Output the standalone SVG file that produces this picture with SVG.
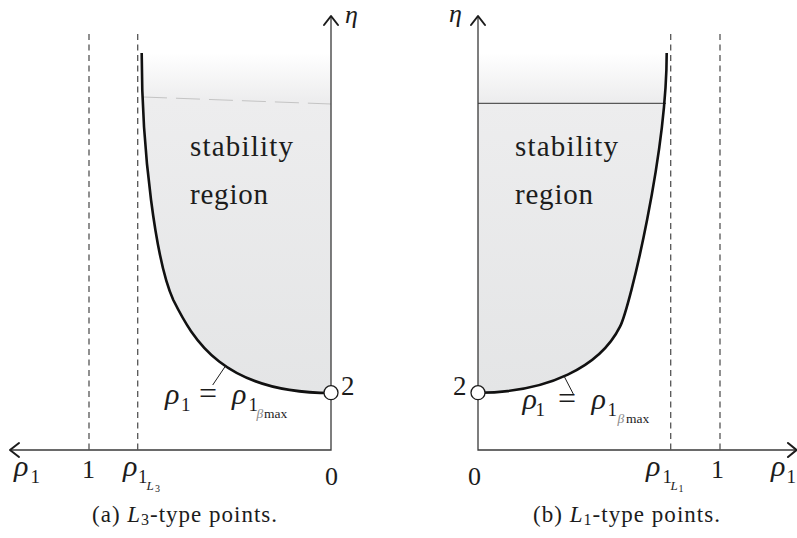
<svg xmlns="http://www.w3.org/2000/svg" width="797" height="538" viewBox="0 0 797 538">
<defs>
  <linearGradient id="shade" gradientUnits="userSpaceOnUse" x1="0" y1="53" x2="0" y2="393">
    <stop offset="0" stop-color="#ffffff"/>
    <stop offset="0.14" stop-color="#ededee"/>
    <stop offset="1" stop-color="#e4e5e6"/>
  </linearGradient>
</defs>

<g id="panel-a">
  <path id="region-a" d="M141.7,53 C141.7,153 156,262 173.3,300 C193.3,340 223,393 331,393 L331,53 Z" fill="url(#shade)"/>
  <line x1="143" y1="97" x2="331" y2="104" stroke="#c4c4c4" stroke-width="1" stroke-dasharray="24 9"/>
  <g id="dashes-a" stroke="#555" stroke-width="1.3" stroke-dasharray="6 4.5" fill="none">
    <line x1="89" y1="34" x2="89" y2="450"/>
    <line x1="137.7" y1="34" x2="137.7" y2="450"/>
  </g>
  <g id="axes-a" fill="none">
    <polyline stroke="#3a3a3a" stroke-width="1.3" points="331,17 331,450 11,450"/>
    <g stroke="#1c1c1c" stroke-width="2" stroke-linecap="round" stroke-linejoin="round">
      <polyline points="324,25 331,16 338,25"/>
      <polyline points="19,443 10,450 19,457"/>
    </g>
  </g>
  <path id="curve-a" d="M141.7,53 C141.7,153 156,262 173.3,300 C193.3,340 223,393 331,393" stroke="#111" stroke-width="2.6" fill="none"/>
  <line x1="212.7" y1="385" x2="225" y2="366.7" stroke="#1c1c1c" stroke-width="1"/>
  <circle cx="331" cy="392.7" r="7" fill="#fff" stroke="#1c1c1c" stroke-width="1.3"/>
  <g id="texts-a" fill="#1c1c1c">
    <text font-family="Liberation Serif" font-size="29" x="190" y="156" textLength="103" lengthAdjust="spacing">stability</text>
    <text font-family="Liberation Serif" font-size="29" x="190" y="204" textLength="78" lengthAdjust="spacing">region</text>
    <text font-family="Liberation Serif" font-style="italic" font-size="26" x="345" y="23">η</text>
    <text font-family="Liberation Serif" font-size="27" x="341" y="395">2</text>
    <g id="label-a">
      <text font-family="Liberation Serif" font-style="italic" font-size="30" x="165" y="404">ρ</text>
      <text font-family="Liberation Serif" font-size="19" x="181" y="411">1</text>
      <text font-family="Liberation Serif" font-size="32" x="199" y="404">=</text>
      <text font-family="Liberation Serif" font-style="italic" font-size="30" x="232" y="404">ρ</text>
      <text font-family="Liberation Serif" font-size="19" x="248.5" y="411">1</text>
      <text font-family="Liberation Serif" font-style="italic" font-size="13.5" x="256.5" y="418" fill="#8a8a8a">β</text>
      <text font-family="Liberation Serif" font-size="13.5" x="264" y="418">max</text>
    </g>
    <text font-family="Liberation Serif" font-style="italic" font-size="30" x="14" y="476">ρ</text>
    <text font-family="Liberation Serif" font-size="19" x="30.5" y="483">1</text>
    <text font-family="Liberation Serif" font-size="26" x="82" y="478">1</text>
    <text font-family="Liberation Serif" font-style="italic" font-size="30" x="123" y="476">ρ</text>
    <text font-family="Liberation Serif" font-size="19" x="138" y="483">1</text>
    <text font-family="Liberation Serif" font-style="italic" font-size="13" x="146.5" y="490">L</text>
    <text font-family="Liberation Serif" font-size="10" x="155" y="492">3</text>
    <text font-family="Liberation Serif" font-size="26" x="325" y="485">0</text>
    <text font-family="Liberation Serif" font-size="23" x="92" y="521.5" textLength="185" lengthAdjust="spacing">(a)  <tspan font-style="italic">L</tspan><tspan font-size="16" dy="3">3</tspan><tspan dy="-3">-type points.</tspan></text>
  </g>
</g>

<g id="panel-b">
  <path id="region-b" d="M478,392.7 C548,392.7 600,366.7 620,326.7 C630,306.7 666.7,153 666.7,53 L478,53 Z" fill="url(#shade)"/>
  <line x1="478" y1="103.3" x2="666" y2="103.3" stroke="#333" stroke-width="1"/>
  <g id="dashes-b" stroke="#555" stroke-width="1.3" stroke-dasharray="6 4.5" fill="none">
    <line x1="670.7" y1="34" x2="670.7" y2="450"/>
    <line x1="720" y1="34" x2="720" y2="450"/>
  </g>
  <g id="axes-b" fill="none">
    <polyline stroke="#3a3a3a" stroke-width="1.3" points="478,17 478,450 795,450"/>
    <g stroke="#1c1c1c" stroke-width="2" stroke-linecap="round" stroke-linejoin="round">
      <polyline points="471,25 478,16 485,25"/>
      <polyline points="788,443 796.5,450 788,457"/>
    </g>
  </g>
  <path id="curve-b" d="M478,392.7 C548,392.7 600,366.7 620,326.7 C630,306.7 666.7,153 666.7,53" stroke="#111" stroke-width="2.6" fill="none"/>
  <line x1="564" y1="376" x2="573.3" y2="394" stroke="#1c1c1c" stroke-width="1"/>
  <circle cx="478" cy="392.7" r="7" fill="#fff" stroke="#1c1c1c" stroke-width="1.3"/>
  <g id="texts-b" fill="#1c1c1c">
    <text font-family="Liberation Serif" font-size="29" x="515" y="156" textLength="103" lengthAdjust="spacing">stability</text>
    <text font-family="Liberation Serif" font-size="29" x="515" y="204" textLength="78" lengthAdjust="spacing">region</text>
    <text font-family="Liberation Serif" font-style="italic" font-size="26" x="449" y="22">η</text>
    <text font-family="Liberation Serif" font-size="27" x="453" y="395">2</text>
    <g id="label-b">
      <text font-family="Liberation Serif" font-style="italic" font-size="30" x="522.5" y="409">ρ</text>
      <text font-family="Liberation Serif" font-size="19" x="535.5" y="416">1</text>
      <text font-family="Liberation Serif" font-size="32" x="558" y="409">=</text>
      <text font-family="Liberation Serif" font-style="italic" font-size="30" x="591.5" y="409">ρ</text>
      <text font-family="Liberation Serif" font-size="19" x="607.5" y="416">1</text>
      <text font-family="Liberation Serif" font-style="italic" font-size="13.5" x="617.5" y="423" fill="#8a8a8a">β</text>
      <text font-family="Liberation Serif" font-size="13.5" x="626" y="423">max</text>
    </g>
    <text font-family="Liberation Serif" font-size="26" x="468" y="485">0</text>
    <text font-family="Liberation Serif" font-style="italic" font-size="30" x="646" y="476">ρ</text>
    <text font-family="Liberation Serif" font-size="19" x="662.5" y="483">1</text>
    <text font-family="Liberation Serif" font-style="italic" font-size="13" x="670.5" y="490">L</text>
    <text font-family="Liberation Serif" font-size="10" x="678.5" y="492">1</text>
    <text font-family="Liberation Serif" font-size="26" x="711" y="478">1</text>
    <text font-family="Liberation Serif" font-style="italic" font-size="30" x="771" y="476">ρ</text>
    <text font-family="Liberation Serif" font-size="19" x="786.5" y="483">1</text>
    <text font-family="Liberation Serif" font-size="23" x="533" y="521.5" textLength="187" lengthAdjust="spacing">(b)  <tspan font-style="italic">L</tspan><tspan font-size="16" dy="3">1</tspan><tspan dy="-3">-type points.</tspan></text>
  </g>
</g>
</svg>
